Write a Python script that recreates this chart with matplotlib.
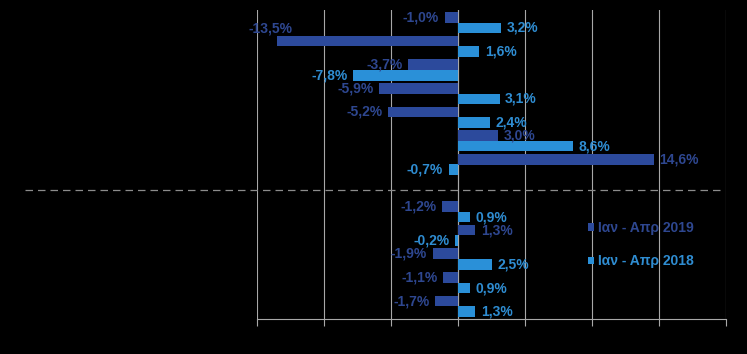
import numpy as np
import matplotlib
matplotlib.use("Agg")
import matplotlib.pyplot as plt
from matplotlib.patches import Patch
import matplotlib.transforms as mtrans

plt.rcParams['font.family'] = ['Liberation Sans', 'DejaVu Sans']

# 13 category slots (slot 8 is an empty separator row)
slots = list(range(13))
v2019 = [-1.0, -13.5, -3.7, -5.9, -5.2, 3.0, 14.6, np.nan, -1.2, 1.3, -1.9, -1.1, -1.7]
v2018 = [3.2, 1.6, -7.8, 3.1, 2.4, 8.6, -0.7, np.nan, 0.9, -0.2, 2.5, 0.9, 1.3]
series_names = ["Ιαν - Απρ 2019", "Ιαν - Απρ 2018"]
xticks = [-15, -10, -5, 0, 5, 10, 15, 20]

c19_bar = "#2c4a9c"
c19_txt = "#2e4790"
c18_bar = "#2a90d8"
c18_txt = "#2f8dd2"
grid_c = "#a8a8a8"

fig = plt.figure(figsize=(7.47, 3.54), dpi=100, facecolor="black")
ax = fig.add_axes([257/747, 1-319/354, (726-257)/747, (319-10)/354])
ax.set_facecolor("black")

h = 0.45
y = np.array(slots, dtype=float)
ax.barh(y - h/2, v2019, height=h, color=c19_bar, zorder=3)
ax.barh(y + h/2, v2018, height=h, color=c18_bar, zorder=3)

ax.set_xlim(-15, 20)
ax.set_ylim(12.53, -0.53)
ax.set_xticks(xticks)
ax.set_xticklabels([])
ax.set_yticks([])
ax.grid(axis='x', color=grid_c, linewidth=0.8, zorder=1)
ax.axvline(0, color=grid_c, linewidth=0.8, zorder=2)
for s in ['top', 'right', 'left']:
    ax.spines[s].set_visible(False)
ax.spines['bottom'].set_color(grid_c)
ax.spines['bottom'].set_linewidth(0.8)
ax.tick_params(axis='x', colors=grid_c, length=5, width=0.8, direction='out')

def fmt(v):
    return f"{v:.1f}".replace('.', ',') + "%"

fs = 10
for vals, off, col in [(v2019, -h/2, c19_txt), (v2018, h/2, c18_txt)]:
    for yi, v in zip(y, vals):
        if np.isnan(v):
            continue
        if v == -13.5:
            ax.annotate(fmt(v), (v, yi + off), xytext=(-5, 9), textcoords='offset points',
                        ha='center', va='center', color=col, fontsize=fs, fontweight='bold',
                        annotation_clip=False, zorder=5)
            continue
        if v >= 0:
            ax.annotate(fmt(v), (v, yi + off), xytext=(4, 0), textcoords='offset points',
                        ha='left', va='center', color=col, fontsize=fs, fontweight='bold',
                        annotation_clip=False, zorder=5)
        else:
            ax.annotate(fmt(v), (v, yi + off), xytext=(-4, 0), textcoords='offset points',
                        ha='right', va='center', color=col, fontsize=fs, fontweight='bold',
                        annotation_clip=False, zorder=5)

# dashed separator line across the empty slot
tr = mtrans.blended_transform_factory(fig.transFigure, ax.transData)
ax.plot([25/747, 720/747], [7.08, 7.08], transform=tr, color="#8c8c8c",
        linewidth=0.9, linestyle=(0, (6, 4)), clip_on=False, zorder=2)

handles = [Patch(facecolor=c19_bar, edgecolor='none'), Patch(facecolor=c18_bar, edgecolor='none')]
leg = fig.legend(handles, series_names, loc='upper left', bbox_to_anchor=(581/747, 1-214/354),
                 frameon=False, prop={'weight': 'bold', 'size': fs},
                 handlelength=0.45, handleheight=0.45, handletextpad=0.3, labelspacing=1.4,
                 borderpad=0)
for t, c in zip(leg.get_texts(), [c19_txt, c18_txt]):
    t.set_color(c)

fig.savefig("out.png", dpi=100, facecolor="black")
